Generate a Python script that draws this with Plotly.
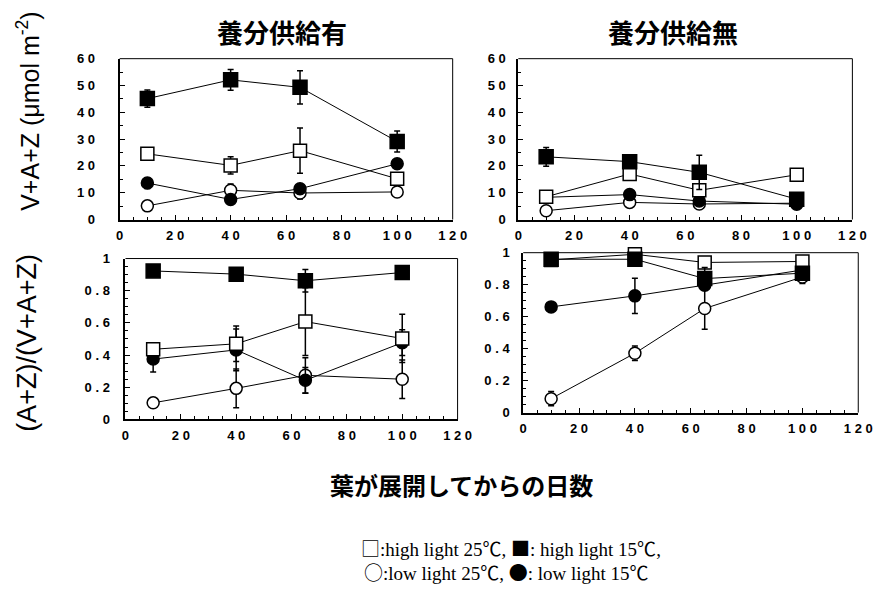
import plotly.graph_objects as go

days = [10, 40, 65, 100]

# Panel A: V+A+Z, 養分供給有
a_hl25 = [24.5, 20.2, 25.7, 15.2]; a_hl25_err = [0.8, 3.2, 8.4, 2.0]
a_hl15 = [45.1, 52.1, 49.3, 29.1]; a_hl15_err = [3.2, 3.9, 6.2, 3.9]
a_ll25 = [5.1, 10.9, 9.9, 10.3];   a_ll25_err = [0.5, 2.4, 2.2, 0.5]
a_ll15 = [13.6, 7.5, 11.5, 20.8];  a_ll15_err = [2.0, 0.8, 1.0, 0.8]

# Panel B: V+A+Z, 養分供給無
b_hl25 = [8.5, 17.0, 10.9, 16.7];  b_hl25_err = [0.5, 1.0, 1.0, 1.0]
b_hl15 = [23.4, 21.6, 17.6, 7.6];  b_hl15_err = [3.5, 0.8, 6.4, 0.8]
b_ll25 = [3.3, 6.4, 5.8, 6.1];     b_ll25_err = [0.3, 0.5, 0.5, 0.5]
b_ll15 = [8.3, 9.3, 6.9, 5.7];     b_ll15_err = [0.5, 1.5, 0.8, 0.5]

# Panel C: (A+Z)/(V+A+Z), 養分供給有
c_hl25 = [0.436, 0.47, 0.608, 0.503]; c_hl25_err = [0.02, 0.11, 0.21, 0.15]
c_hl15 = [0.923, 0.903, 0.862, 0.913]; c_hl15_err = [0.01, 0.01, 0.07, 0.02]
c_ll25 = [0.103, 0.193, 0.274, 0.25];  c_ll25_err = [0.005, 0.12, 0.11, 0.12]
c_ll15 = [0.375, 0.432, 0.243, 0.477]; c_ll15_err = [0.08, 0.13, 0.08, 0.08]

# Panel D: (A+Z)/(V+A+Z), 養分供給無
d_hl25 = [0.955, 0.99, 0.939, 0.945]; d_hl25_err = [0.01, 0.01, 0.01, 0.01]
d_hl15 = [0.959, 0.959, 0.838, 0.872]; d_hl15_err = [0.01, 0.01, 0.07, 0.02]
d_ll25 = [0.087, 0.371, 0.651, 0.848]; d_ll25_err = [0.045, 0.045, 0.13, 0.04]
d_ll15 = [0.661, 0.730, 0.797, 0.892]; d_ll15_err = [0.01, 0.11, 0.03, 0.01]

x_tickvals = [0, 20, 40, 60, 80, 100, 120]
x_ticktext = ["0", "2 0", "4 0", "6 0", "8 0", "1 0 0", "1 2 0"]
top_tickvals = [0, 10, 20, 30, 40, 50, 60]
top_ticktext = ["0", "1 0", "2 0", "3 0", "4 0", "5 0", "6 0"]
bot_tickvals = [0, 0.2, 0.4, 0.6, 0.8, 1.0]
bot_ticktext = ["0", "0 . 2", "0 . 4", "0 . 6", "0 . 8", "1"]

panel_titles = ["養分供給有", "養分供給無"]
x_title = "葉が展開してからの日数"
y_title_top = "V+A+Z (μmol m<sup>-2</sup>)"
y_title_bot = "(A+Z)/(V+A+Z)"
legend_parts1 = [("□", True), (":high light 25", False), ("℃", True), (", ", False),
                 ("■", True), (": high light 15", False), ("℃", True), (",", False)]
legend_parts2 = [("○", True), (":low light 25", False), ("℃", True), (", ", False),
                 ("●", True), (": low light 15", False), ("℃", True)]

W, H = 885, 599
def dx(a, b):
    return [a / W, b / W]
def dy(top, bot):
    return [1 - bot / H, 1 - top / H]

# pixel boxes (left, right, top, bottom) and y tick label standoff
boxes = [(118, 458, 53, 218), (525, 866, 53, 218), (124, 463, 258, 423), (530, 872, 252, 416)]
ystandoff = [20, 8, 11, 9]

fig = go.Figure()

panels = [
    (a_hl25, a_hl25_err, a_hl15, a_hl15_err, a_ll25, a_ll25_err, a_ll15, a_ll15_err),
    (b_hl25, b_hl25_err, b_hl15, b_hl15_err, b_ll25, b_ll25_err, b_ll15, b_ll15_err),
    (c_hl25, c_hl25_err, c_hl15, c_hl15_err, c_ll25, c_ll25_err, c_ll15, c_ll15_err),
    (d_hl25, d_hl25_err, d_hl15, d_hl15_err, d_ll25, d_ll25_err, d_ll15, d_ll15_err),
]

def add_series(y, err, symbol, fill, size, xa, ya):
    fig.add_trace(go.Scatter(
        x=days, y=y, mode="lines+markers", xaxis=xa, yaxis=ya,
        line=dict(color="black", width=1),
        marker=dict(symbol=symbol, size=size, color=fill,
                    line=dict(color="black", width=1.5)),
        error_y=dict(type="data", array=err, visible=True, color="black",
                     thickness=1.5, width=3),
        cliponaxis=False, showlegend=False,
    ))

for i, p in enumerate(panels):
    n = "" if i == 0 else str(i + 1)
    xa, ya = "x" + n, "y" + n
    hl25, hl25e, hl15, hl15e, ll25, ll25e, ll15, ll15e = p
    add_series(ll25, ll25e, "circle", "white", 12, xa, ya)
    add_series(ll15, ll15e, "circle", "black", 12, xa, ya)
    add_series(hl25, hl25e, "square", "white", 13, xa, ya)
    add_series(hl15, hl15e, "square", "black", 14, xa, ya)

def bold(lst):
    return ["<b>" + s.replace(" ", "\u00a0") + "</b>" for s in lst]

tickfont = dict(family="Liberation Sans, Arial", size=13, color="black")
layout = dict(
    width=W, height=H, margin=dict(l=0, r=0, t=0, b=0),
    paper_bgcolor="white", plot_bgcolor="white",
)
shapes = []
for i, (l, r, t, b) in enumerate(boxes):
    n = "" if i == 0 else str(i + 1)
    top = i < 2
    layout["xaxis" + n] = dict(
        domain=dx(l, r), anchor="y" + n, range=[0, 120],
        tickvals=x_tickvals, ticktext=bold(x_ticktext), tickfont=tickfont,
        ticks="inside", ticklen=5, tickwidth=1, tickcolor="black",
        minor=dict(ticks="inside", dtick=5, ticklen=3, tickcolor="black"),
        showgrid=False, zeroline=False, showline=True, linewidth=2,
        linecolor="black", ticklabelstandoff=3,
    )
    layout["yaxis" + n] = dict(
        domain=dy(t, b), anchor="x" + n,
        range=[0, 60] if top else [0, 1],
        tickvals=top_tickvals if top else bot_tickvals,
        ticktext=bold(top_ticktext if top else bot_ticktext),
        tickfont=tickfont,
        ticks="inside", ticklen=5, tickwidth=1, tickcolor="black",
        minor=dict(ticks="inside", dtick=5 if top else 0.05, ticklen=3, tickcolor="black"),
        showgrid=False, zeroline=False, showline=True, linewidth=2,
        linecolor="black", ticklabelstandoff=ystandoff[i],
    )
    xr = "x" + n + " domain"
    yr = "y" + n + " domain"
    shapes.append(dict(type="line", xref=xr, yref=yr, x0=0, x1=1, y0=1, y1=1,
                       line=dict(color="black", width=1)))
    shapes.append(dict(type="line", xref=xr, yref=yr, x0=1, x1=1, y0=0, y1=1,
                       line=dict(color="black", width=1)))
layout["shapes"] = shapes

cjk = "Noto Sans CJK JP"

def legend_html(parts):
    out = ""
    for s, sym in parts:
        if sym:
            out += '<span style="font-family:Noto Sans CJK JP">' + s + "</span>"
        else:
            out += s
    return out

def a(text, x, y, size, family, angle=0, xanchor="center"):
    return dict(text=text, x=x / W, y=1 - y / H, xref="paper", yref="paper",
                showarrow=False, textangle=angle, xanchor=xanchor, yanchor="middle",
                font=dict(family=family, size=size, color="black"))

ann = [
    a("<b>" + panel_titles[0] + "</b>", 284, 25, 26, cjk),
    a("<b>" + panel_titles[1] + "</b>", 683, 25, 26, cjk),
    a("<b>" + x_title + "</b>", 467, 490, 24, cjk),
    a(y_title_top, 25, 107, 25, "Liberation Sans, Arial", angle=-90),
    a(y_title_bot, 24, 345, 27, "Liberation Sans, Arial", angle=-90),
    a(legend_html(legend_parts1), 362, 554, 19, "Liberation Serif, Times New Roman", xanchor="left"),
    a(legend_html(legend_parts2), 365, 579, 19, "Liberation Serif, Times New Roman", xanchor="left"),
]
layout["annotations"] = ann

fig.update_layout(**layout)
fig.write_html("out.html")
